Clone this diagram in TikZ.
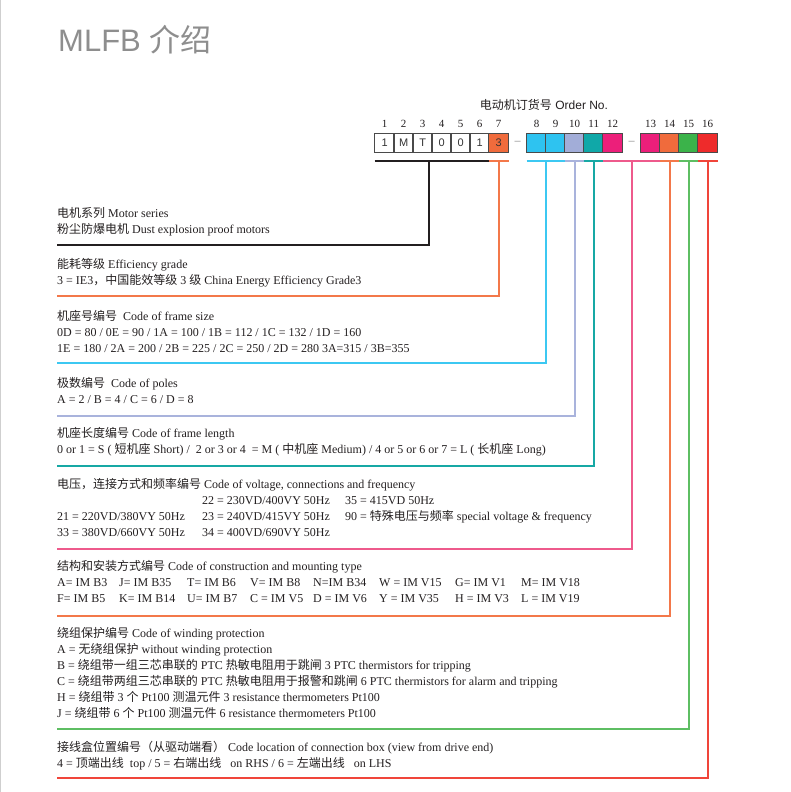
\documentclass[tikz,border=0pt]{standalone}
\usepackage{fontspec}
\setmainfont{Liberation Serif}
\setsansfont{Liberation Sans}
\newfontfamily\cjk{Noto Sans CJK SC}
\usetikzlibrary{matrix,positioning,calc}
\newcommand{\zh}[1]{{\cjk #1}}
\newcommand{\fixw}[2]{\makebox[#1][l]{#2}}
\newcommand{\fstrut}{\rule{0pt}{11pt}}
\definecolor{txtc}{HTML}{231F20}
\definecolor{titlec}{HTML}{8E8E8E}
\definecolor{boxc}{HTML}{4A4A4A}
\definecolor{boxtxt}{HTML}{333333}
\definecolor{dashc}{HTML}{9A9A9A}
\definecolor{edgec}{HTML}{CFCFCF}
\definecolor{blk}{HTML}{231F20}
\definecolor{orgbox}{HTML}{F06B3C}
\definecolor{cynbox}{HTML}{2EC3F0}
\definecolor{lavbox}{HTML}{A2ADD8}
\definecolor{teabox}{HTML}{10A8A8}
\definecolor{pnkbox}{HTML}{EC1F7A}
\definecolor{grnbox}{HTML}{3BB34A}
\definecolor{redbox}{HTML}{EE2B2B}
\definecolor{org}{HTML}{F3784A}
\definecolor{cyn}{HTML}{3CC8F2}
\definecolor{lav}{HTML}{A9B3DC}
\definecolor{tea}{HTML}{17A8A4}
\definecolor{pnk}{HTML}{EE5A8C}
\definecolor{grn}{HTML}{5EBE63}
\definecolor{red}{HTML}{F0453A}
\begin{document}
\begin{tikzpicture}[
x=1pt,
y=-1pt,
plain/.style={
  draw=none,
  fill=none,
  },
net/.style={
  matrix of nodes,
  nodes={
    draw=boxc,
    line width=1pt,
    anchor=center,
    minimum width=20pt,
    minimum height=19pt,
    inner sep=0pt,
    outer sep=0pt,
    text=boxtxt,
    font=\sffamily\fontsize{11}{11}\selectfont
    },
  nodes in empty cells,
  column sep=-2pt,
  row sep=0pt,
  inner sep=0pt,
  row 1/.style={nodes={plain, text=txtc, font=\rmfamily\fontsize{11}{11}\selectfont}},
  column 8/.style={nodes={plain, text=dashc, minimum width=21pt}},
  column 14/.style={nodes={plain, text=dashc, minimum width=21pt}}
  },
txt/.style={
  anchor=north west,
  inner sep=0pt,
  align=left,
  text=txtc,
  font=\rmfamily\fontsize{12}{16}\selectfont
  },
link/.style={
  line width=2pt
  }
]
\useasboundingbox (0,0) rectangle (791,792);
\draw[edgec, line width=1pt] (0.5,0) -- (0.5,792);

\node[anchor=base west, inner sep=0pt, text=titlec,
  font=\sffamily\fontsize{31}{31}\selectfont] (title) at (58,52) {MLFB \zh{介绍}};
\node[inner sep=0pt, text=txtc, font=\sffamily\fontsize{12}{12}\selectfont]
  (ordno) at (544,105) {\zh{电动机订货号} Order No.};

\matrix[net, anchor=north west] (mat) at (374,114)
{
1 & 2 & 3 & 4 & 5 & 6 & 7 & & 8 & 9 & 10 & 11 & 12 & & 13 & 14 & 15 & 16\\
1 & M & T & 0 & 0 & 1 & |[fill=orgbox]| 3 & -- & |[fill=cynbox]| & |[fill=cynbox]| & |[fill=lavbox]| & |[fill=teabox]| & |[fill=pnkbox]| & -- & |[fill=pnkbox]| & |[fill=orgbox]| & |[fill=grnbox]| & |[fill=redbox]| \\
};

\foreach \a/\b/\c/\pos/\y/\n in {1/6/blk/0.47/244.5/1, 7/7/org/0.5/296/2,
  9/10/cyn/0.5/363/3, 11/11/lav/0.5/416/4, 12/12/tea/0.5/466/5,
  13/15/pnk/0.5/549/6, 16/16/org/0.5/616/7, 17/17/grn/0.5/729/8,
  18/18/red/0.5/778/9}
{
  \coordinate (bl\n) at ($(mat-2-\a.south west)+(0,8)$);
  \coordinate (br\n) at ($(mat-2-\b.south east)+(0,8)$);
  \coordinate (e\n) at (57,\y);
  \draw[link,\c] (bl\n) -- (br\n);
  \draw[link,\c] ($(bl\n)!\pos!(br\n)$) |- (e\n);
}

\node[txt] (series) at (57,206) {\fstrut\zh{电机系列} Motor series\\
  \zh{粉尘防爆电机} Dust explosion proof motors};
\node[txt] (grade) at (57,257) {\fstrut\zh{能耗等级} Efficiency grade\\
  3 = IE3\zh{，中国能效等级} 3 \zh{级} China Energy Efficiency Grade3};
\node[txt] (frame) at (57,309) {\fstrut\zh{机座号编号}\ \ Code of frame size\\
  0D = 80 / 0E = 90 / 1A = 100 / 1B = 112 / 1C = 132 / 1D = 160\\
  1E = 180 / 2A = 200 / 2B = 225 / 2C = 250 / 2D = 280 3A=315 / 3B=355};
\node[txt] (poles) at (57,376) {\fstrut\zh{极数编号}\ \ Code of poles\\
  A = 2 / B = 4 / C = 6 / D = 8};
\node[txt] (length) at (57,426) {\fstrut\zh{机座长度编号} Code of frame length\\
  0 or 1 = S ( \zh{短机座} Short) /\ \ 2 or 3 or 4\ \ = M ( \zh{中机座} Medium) / 4 or 5 or 6 or 7 = L ( \zh{长机座} Long)};
\node[txt] (volt) at (57,477) {\fstrut\zh{电压，连接方式和频率编号} Code of voltage, connections and frequency\\
  \fixw{145pt}{}\fixw{143pt}{22 = 230VD/400VY 50Hz}35 = 415VD 50Hz\\
  \fixw{145pt}{21 = 220VD/380VY 50Hz}\fixw{143pt}{23 = 240VD/415VY 50Hz}90 = \zh{特殊电压与频率} special voltage \& frequency\\
  \fixw{145pt}{33 = 380VD/660VY 50Hz}34 = 400VD/690VY 50Hz};
\node[txt] (mount) at (57,559) {\fstrut\zh{结构和安装方式编号} Code of construction and mounting type\\
  \fixw{62pt}{A= IM B3}\fixw{68pt}{J= IM B35}\fixw{63pt}{T= IM B6}\fixw{63pt}{V= IM B8}\fixw{66pt}{N=IM B34}\fixw{76pt}{W\ = IM V15}\fixw{66pt}{G= IM V1}M= IM V18\\
  \fixw{62pt}{F= IM B5}\fixw{68pt}{K= IM B14}\fixw{63pt}{U= IM B7}\fixw{63pt}{C = IM V5}\fixw{66pt}{D = IM V6}\fixw{76pt}{Y\ = IM V35}\fixw{66pt}{H = IM V3}L = IM V19};
\node[txt] (winding) at (57,626) {\fstrut\zh{绕组保护编号}\ Code of winding protection\\
  A = \zh{无绕组保护} without winding protection\\
  B = \zh{绕组带一组三芯串联的} PTC \zh{热敏电阻用于跳闸} 3 PTC thermistors for tripping\\
  C = \zh{绕组带两组三芯串联的} PTC \zh{热敏电阻用于报警和跳闸} 6 PTC thermistors for alarm and tripping\\
  H = \zh{绕组带} 3 \zh{个} Pt100 \zh{测温元件} 3 resistance thermometers Pt100\\
  J = \zh{绕组带} 6 \zh{个} Pt100 \zh{测温元件} 6 resistance thermometers Pt100};
\node[txt] (cbox) at (57,740) {\fstrut\zh{接线盒位置编号（从驱动端看）} Code location of connection box (view from drive end)\\
  4 = \zh{顶端出线}\ \ top / 5 = \zh{右端出线}\ \ \ on RHS / 6 = \zh{左端出线}\ \ \ on LHS};
\end{tikzpicture}
\end{document}
